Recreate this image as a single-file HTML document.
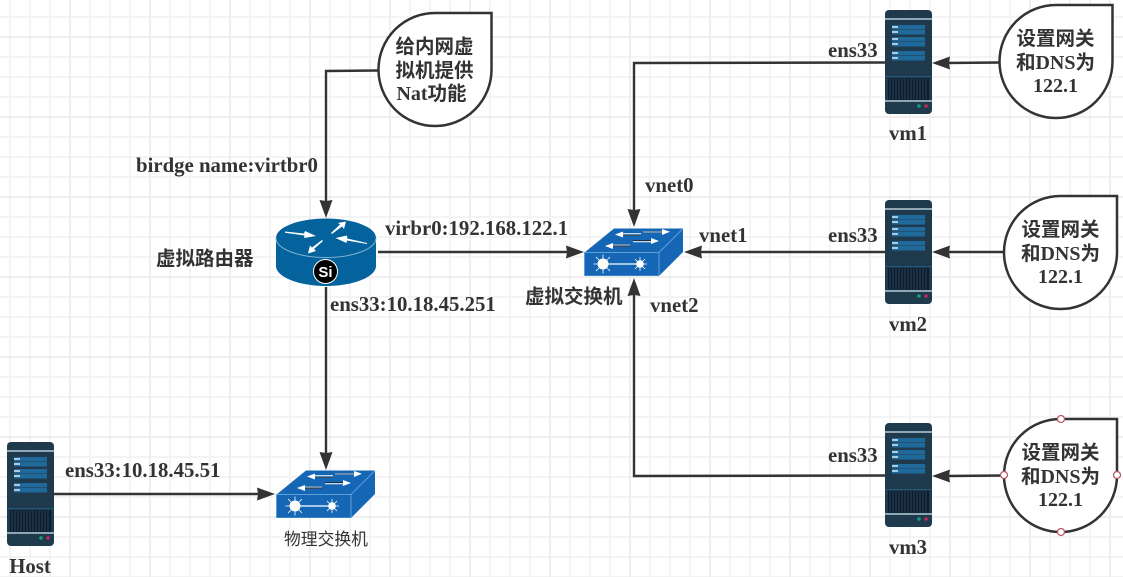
<!DOCTYPE html>
<html><head><meta charset="utf-8"><style>
html,body{margin:0;padding:0;background:#fff;width:1123px;height:577px;overflow:hidden}
svg{display:block}
text{font-family:"Liberation Serif","Noto Sans CJK SC",serif;font-weight:700;font-size:20.8px;fill:#333}
.c{font-size:19.5px}
.b{font-size:20px}
</style></head><body>
<svg width="1123" height="577" viewBox="0 0 1123 577" xmlns="http://www.w3.org/2000/svg">
<defs>
<pattern id="g" width="20" height="20" patternUnits="userSpaceOnUse" x="10" y="17"><path d="M0 0V20M0 0H20M20 0V20M0 20H20" fill="none" stroke="#f3f3f3" stroke-width="1.800"/></pattern>
<pattern id="G" width="80" height="80" patternUnits="userSpaceOnUse" x="70" y="37"><path d="M0 0V80M0 0H80M80 0V80M0 80H80" fill="none" stroke="#eeeeee" stroke-width="2"/></pattern>
<symbol id="srv" width="47" height="104" viewBox="0 0 47 104">
<rect width="47" height="104" rx="4" fill="#1f3a4d"/>
<rect y="8" width="47" height="2" fill="#8fa8b5"/>
<rect x="7" y="15" width="33" height="4.500" fill="#1f6a9a"/><rect x="7" y="20" width="33" height="4.500" fill="#1f6a9a"/>
<rect x="7" y="27" width="33" height="4.500" fill="#1f6a9a"/><rect x="7" y="32" width="33" height="4.500" fill="#1f6a9a"/>
<rect x="7" y="41" width="33" height="4.500" fill="#1f6a9a"/><rect x="7" y="46" width="33" height="4.500" fill="#1f6a9a"/>
<path d="M7 17H13M7 22H13M7 29H13M7 34H13M7 43H13M7 48H13" stroke="#dbe9f2" stroke-width="1.500"/>
<rect y="66" width="47" height="1" fill="#1f5a7d"/>
<rect x="3" y="68" width="41" height="23" fill="#0c1c2e"/>
<path d="M5 68V91M8 68V91M11 68V91M14 68V91M17 68V91M20 68V91M23 68V91M26 68V91M29 68V91M32 68V91M35 68V91M38 68V91M41 68V91" stroke="#2c4458"/>
<rect y="90" width="47" height="2" fill="#8fa8b5"/>
<circle cx="34" cy="96" r="1.800" fill="#12a07a"/><circle cx="41" cy="96" r="1.800" fill="#c22a5c"/>
</symbol>
<symbol id="sw" width="100" height="48" viewBox="0 0 100 48">
<path d="M.5 24.500L30 .5H99L75 24.500Z" fill="#1567b5"/>
<path d="M75 24.500L99 .5V24L75 48Z" fill="#1567b5"/>
<rect x=".5" y="24.500" width="74.500" height="23.500" fill="#1567b5"/>
<path d="M.5 24.500H75V48H.5ZM75 24.500L99 .5" fill="none" stroke="#5ea0d8"/>
<path d="M37 5.800H57" stroke="#fff" stroke-width="1"/><path d="M31 6.500L39 3.500V9.500Z" fill="#fff"/>
<path d="M40 7.200H57" stroke="#39485a" stroke-width="1"/>
<path d="M59 4H80" stroke="#8a9aa8" stroke-width="1.500"/><path d="M86 3.800L78 1V7Z" fill="#fff"/>
<path d="M49 12.500H70" stroke="#1d2f45" stroke-width="1"/><path d="M49 13.800H70" stroke="#fff" stroke-width="1"/><path d="M75 13L67 10V16Z" fill="#fff"/>
<path d="M27 17H46" stroke="#8a9aa8" stroke-width="1.500"/><path d="M27 18.500H46" stroke="#39485a" stroke-width="1"/><path d="M21 18L29 15V21Z" fill="#fff"/>
<path d="M19 36H56" stroke="#fff" stroke-width="1.300"/>
<circle cx="19" cy="36" r="5.500" fill="#fff"/><circle cx="56" cy="36" r="3.800" fill="#fff"/>
<path d="M9.500 36H28.500M19 26.500V45.500M12 29L26 43M26 29L12 43M49 36H63M56 29V43M51 31L61 41M61 31L51 41" stroke="#fff" stroke-width=".8"/>
</symbol>
<path id="bub" d="M113 0L56.500 0A56.500 56.500 0 1 0 113 56.500Z"/>
</defs>
<rect width="1123" height="577" fill="#fff"/>
<rect width="1123" height="577" fill="url(#g)"/>
<rect width="1123" height="577" fill="url(#G)"/>

<g fill="none" stroke="#333" stroke-width="2.400">
<path d="M378 70.500L326 71V207"/>
<path d="M378 252H575"/>
<path d="M326 287V460"/>
<path d="M54 494H262"/>
<path d="M885 62.500L634 63V215"/>
<path d="M885 252H698"/>
<path d="M885 475.500L634 476V292"/>
<path d="M1000 62.500L945 63"/>
<path d="M1004 252H945"/>
<path d="M1004 475.500L945 476"/>
</g>
<g fill="#333">
<path d="M326 218L319.500 200L326 201L332.500 200Z"/>
<path d="M584 252L566 245.500L567 252L566 258.500Z"/>
<path d="M326 470L319.500 452L326 453L332.500 452Z"/>
<path d="M275 494L257 487.500L258 494L257 500.500Z"/>
<path d="M634 227L627.500 209L634 210L640.500 209Z"/>
<path d="M684 252L702 245.500L701 252L702 258.500Z"/>
<path d="M634 278L627.500 296L634 295L640.500 296Z"/>
<path d="M932 63L950 56.500L949 63L950 69.500Z"/>
<path d="M932 252L950 245.500L949 252L950 258.500Z"/>
<path d="M932 476L950 469.500L949 476L950 482.500Z"/>
</g>

<!-- router -->
<path d="M276 238V266C276 277 299 286 326 286S376 277 376 266V238Z" fill="#04629c"/>
<ellipse cx="326" cy="238" rx="50" ry="19.500" fill="#04629c"/>
<path d="M276 238C276 249 299 257.500 326 257.500S376 249 376 238" fill="none" stroke="#7fb3d3"/>
<g fill="#fff">
<path d="M285 231.500L304 233.500L305 231L316 236L304 238L304.500 235.500L285 232.800Z"/>
<path d="M331 233L340 224.500L338 223L346 221.500L344 229L342 226.500L332 234Z"/>
<path d="M367 244L347 240.500L346.500 243L335.500 238L347 235.500L347.300 238.500L367 243Z"/>
<path d="M323 241L314 249L316 251L308 253.500L310 245.500L312 247.500L322 240Z"/>
</g>
<circle cx="325.500" cy="271.500" r="12" fill="#000" stroke="#fff"/>
<text x="325.500" y="277" text-anchor="middle" style="font-family:'Liberation Sans',sans-serif;font-size:15px;fill:#fff;font-weight:700">Si</text>

<use href="#sw" x="584" y="228"/>
<use href="#sw" x="276" y="470"/>
<use href="#srv" x="885" y="10"/>
<use href="#srv" x="885" y="200"/>
<use href="#srv" x="885" y="423"/>
<use href="#srv" x="7" y="442"/>

<g fill="#fff" stroke="#333" stroke-width="2.500">
<use href="#bub" x="378.500" y="13"/>
<use href="#bub" x="999.500" y="5"/>
<use href="#bub" x="1004" y="196"/>
<use href="#bub" x="1004" y="419"/>
</g>
<g fill="#fff" stroke="#b85a6a" stroke-width="1.300">
<circle cx="1061" cy="419" r="3.500"/><circle cx="1117" cy="475" r="3.500"/><circle cx="1061" cy="532" r="3.500"/><circle cx="1004" cy="475" r="3.500"/>
</g>

<g text-anchor="middle">
<text x="434.500" y="53" class="c">给内网虚</text><text x="434.500" y="77" class="c">拟机提供</text><text x="431.500" y="100" class="b">Nat<tspan class="c">功能</tspan></text>
<text x="1055.500" y="45" class="c">设置网关</text><text x="1055.500" y="69" class="b"><tspan class="c">和</tspan>DNS<tspan class="c">为</tspan></text><text x="1055.500" y="92" class="b">122.1</text>
<text x="1060.500" y="236" class="c">设置网关</text><text x="1060.500" y="260" class="b"><tspan class="c">和</tspan>DNS<tspan class="c">为</tspan></text><text x="1060.500" y="283" class="b">122.1</text>
<text x="1060.500" y="459" class="c">设置网关</text><text x="1060.500" y="483" class="b"><tspan class="c">和</tspan>DNS<tspan class="c">为</tspan></text><text x="1060.500" y="506" class="b">122.1</text>
<text x="908" y="140">vm1</text><text x="908" y="331">vm2</text><text x="908" y="554">vm3</text>
<text x="30" y="573">Host</text>
</g>
<text x="136" y="172">birdge name:virtbr0</text>
<text x="156" y="265" class="c">虚拟路由器</text>
<text x="385" y="235">virbr0:192.168.122.1</text>
<text x="330" y="311">ens33:10.18.45.251</text>
<text x="65" y="477">ens33:10.18.45.51</text>
<text x="525" y="303" class="c">虚拟交换机</text>
<text x="645" y="192">vnet0</text>
<text x="699" y="242">vnet1</text>
<text x="650" y="312">vnet2</text>
<text x="828" y="57">ens33</text>
<text x="828" y="242">ens33</text>
<text x="828" y="462">ens33</text>
<text x="284" y="545" style="font-size:16.800px;font-weight:400">物理交换机</text>
</svg>
</body></html>
